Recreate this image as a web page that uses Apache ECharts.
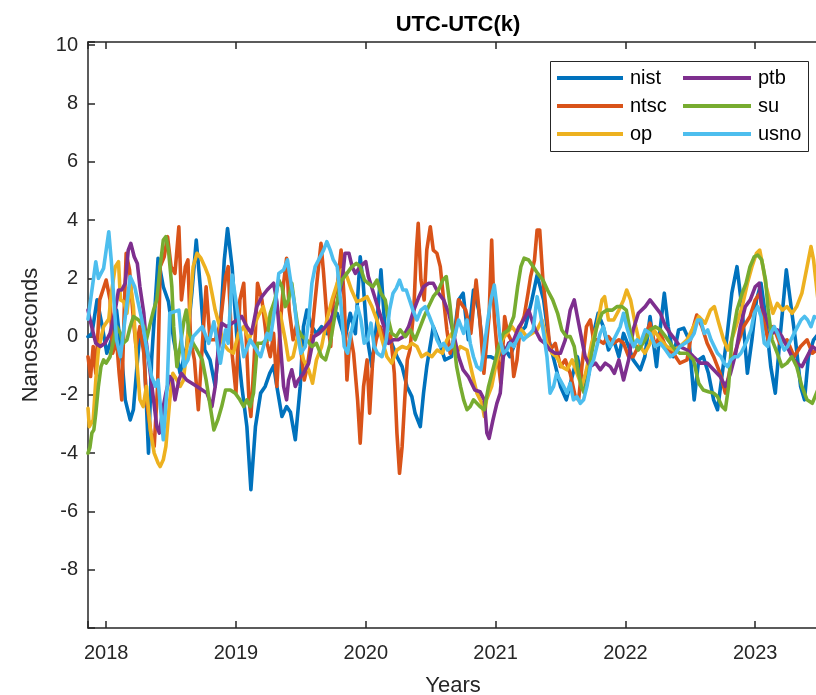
<!DOCTYPE html>
<html>
<head>
<meta charset="utf-8">
<title>UTC-UTC(k)</title>
<script src="https://cdn.jsdelivr.net/npm/echarts@6/dist/echarts.min.js"></script>
<style>
  html, body { margin: 0; padding: 0; background: #ffffff; overflow: hidden; }
  #chart { width: 816px; height: 695px; }
</style>
</head>
<body>
<div id="chart"></div>
<script>
// UTC - UTC(k) offsets, nanoseconds, for six timing laboratories.
// Each entry is [decimal year, offset in ns].
const labNames = ['nist', 'ntsc', 'op', 'ptb', 'su', 'usno'];
const labColors = ['#0072BD', '#D95319', '#EDB120', '#7E2F8E', '#77AC30', '#4DBEEE'];

const nist = [
  [2017.86,0.0],[2017.89,0.1],[2017.93,1.26],[2017.97,0.34],[2018.005,-0.57],[2018.04,-0.11],[2018.08,0.91],[2018.12,-0.69],
  [2018.147,-2.17],[2018.185,-2.86],[2018.21,-2.5],[2018.237,-1.03],[2018.26,0.11],[2018.29,-0.23],[2018.326,-4.0],[2018.35,-0.8],
  [2018.40,2.69],[2018.44,1.71],[2018.48,1.2],[2018.52,-0.11],[2018.57,-1.26],[2018.62,-0.34],[2018.66,1.49],[2018.694,3.31],
  [2018.725,1.71],[2018.76,-0.46],[2018.80,-0.8],[2018.84,-1.71],[2018.88,0.34],[2018.91,2.63],[2018.935,3.71],[2018.97,2.4],
  [2019.01,-0.23],[2019.045,-1.71],[2019.084,-3.09],[2019.115,-5.25],[2019.15,-3.09],[2019.19,-1.94],[2019.225,-1.71],[2019.26,-1.26],
  [2019.29,-1.0],[2019.315,-1.71],[2019.354,-2.74],[2019.39,-2.4],[2019.42,-2.6],[2019.457,-3.54],[2019.495,-1.71],[2019.52,0.34],
  [2019.546,0.91],[2019.585,0.34],[2019.62,0.1],[2019.66,0.34],[2019.70,0.1],[2019.74,0.6],[2019.78,0.8],[2019.84,-0.1],
  [2019.88,0.8],[2019.92,0.1],[2019.957,2.74],[2019.98,1.83],[2020.01,0.0],[2020.047,-1.03],[2020.09,0.69],[2020.117,2.29],
  [2020.15,0.11],[2020.19,-0.11],[2020.24,-0.69],[2020.28,-1.03],[2020.317,-1.71],[2020.355,-2.06],[2020.38,-2.63],[2020.42,-3.09],
  [2020.445,-1.94],[2020.47,-1.03],[2020.52,0.34],[2020.56,-0.11],[2020.61,-0.8],[2020.66,-0.69],[2020.715,1.26],[2020.75,1.49],
  [2020.79,-0.11],[2020.83,1.6],[2020.87,0.91],[2020.91,-0.69],[2020.96,-0.69],[2021.01,-0.8],[2021.06,-0.34],[2021.11,-0.69],
  [2021.18,0.11],[2021.23,0.34],[2021.28,1.26],[2021.32,2.11],[2021.37,1.26],[2021.41,-0.11],[2021.45,-0.8],[2021.50,-1.71],
  [2021.545,-2.17],[2021.59,-1.37],[2021.63,-0.69],[2021.68,-1.71],[2021.72,-1.26],[2021.755,0.11],[2021.79,0.8],[2021.83,0.34],
  [2021.87,-0.46],[2021.91,-0.11],[2021.95,-0.69],[2021.986,0.11],[2022.025,-0.34],[2022.06,-0.8],[2022.115,-1.14],[2022.15,-0.69],
  [2022.19,0.69],[2022.24,-1.03],[2022.27,0.34],[2022.30,1.49],[2022.33,0.34],[2022.37,-0.69],[2022.41,0.23],[2022.45,0.29],
  [2022.49,-0.11],[2022.53,-2.17],[2022.565,-0.8],[2022.60,-0.69],[2022.64,-1.26],[2022.68,-2.17],[2022.71,-2.51],[2022.74,-1.49],
  [2022.78,-0.11],[2022.82,1.49],[2022.86,2.4],[2022.90,0.91],[2022.94,-1.26],[2022.975,-0.11],[2023.01,1.26],[2023.045,1.83],
  [2023.08,0.69],[2023.12,-1.03],[2023.155,-1.94],[2023.19,-0.11],[2023.24,2.29],[2023.27,1.26],[2023.31,-0.11],[2023.35,-1.71],
  [2023.38,-2.17],[2023.41,-0.69],[2023.45,-0.11],[2023.49,0.11]
];

const ntsc = [
  [2017.86,-0.69],[2017.88,-1.37],[2017.90,-0.34],[2017.92,-1.26],[2017.95,1.26],[2017.975,1.6],[2018.0,1.94],[2018.03,1.26],
  [2018.05,-0.57],[2018.08,-0.11],[2018.10,-1.26],[2018.12,-2.17],[2018.14,1.03],[2018.154,2.86],[2018.18,2.29],[2018.21,0.57],
  [2018.23,-0.34],[2018.26,0.34],[2018.29,-0.57],[2018.31,-2.17],[2018.345,-3.31],[2018.37,-3.77],[2018.396,-1.71],[2018.416,2.4],
  [2018.447,2.74],[2018.473,3.43],[2018.50,2.4],[2018.53,2.17],[2018.56,3.77],[2018.58,1.26],[2018.61,2.4],[2018.63,2.63],
  [2018.65,-0.11],[2018.68,-0.8],[2018.71,-2.51],[2018.74,-0.34],[2018.77,1.71],[2018.80,-0.11],[2018.84,-0.11],[2018.88,0.46],
  [2018.92,2.06],[2018.94,2.4],[2018.97,-0.57],[2019.0,-1.94],[2019.03,1.26],[2019.06,1.83],[2019.10,-2.17],[2019.115,-2.74],
  [2019.14,-0.8],[2019.166,1.83],[2019.2,1.26],[2019.24,-0.23],[2019.264,-0.69],[2019.29,0.11],[2019.315,-1.71],[2019.34,0.34],
  [2019.367,1.83],[2019.39,2.69],[2019.41,0.91],[2019.44,-0.11],[2019.47,0.46],[2019.50,-0.46],[2019.526,-1.49],[2019.55,-1.03],
  [2019.585,0.11],[2019.61,1.26],[2019.636,2.4],[2019.655,3.2],[2019.675,2.17],[2019.70,0.69],[2019.73,-0.34],[2019.75,1.26],
  [2019.78,1.71],[2019.81,2.97],[2019.834,1.26],[2019.855,-1.49],[2019.88,0.11],[2019.906,-0.57],[2019.937,-2.17],[2019.957,-3.66],
  [2019.983,-1.71],[2020.01,-0.8],[2020.03,-2.63],[2020.055,-0.69],[2020.08,-0.11],[2020.11,0.34],[2020.15,-0.11],[2020.19,0.11],
  [2020.22,-1.26],[2020.24,-3.31],[2020.26,-4.69],[2020.28,-3.77],[2020.30,-2.17],[2020.32,-0.8],[2020.34,-0.46],[2020.37,0.91],
  [2020.39,2.97],[2020.404,3.89],[2020.425,1.94],[2020.45,1.26],[2020.47,2.97],[2020.497,3.77],[2020.52,2.97],[2020.548,2.86],
  [2020.574,2.4],[2020.60,1.26],[2020.625,0.23],[2020.65,-0.57],[2020.69,0.11],[2020.715,1.26],[2020.77,0.91],[2020.81,0.11],
  [2020.85,1.94],[2020.877,0.69],[2020.91,-1.26],[2020.933,-0.11],[2020.95,0.69],[2020.97,3.31],[2020.99,0.69],[2021.016,-0.69],
  [2021.04,-1.6],[2021.07,0.69],[2021.093,0.11],[2021.118,-0.11],[2021.14,-1.37],[2021.165,-0.8],[2021.19,0.34],[2021.22,0.69],
  [2021.25,1.49],[2021.27,2.06],[2021.30,2.63],[2021.32,3.66],[2021.34,3.66],[2021.365,1.94],[2021.39,0.91],[2021.42,-0.46],
  [2021.46,-0.23],[2021.50,-1.03],[2021.537,-0.8],[2021.575,-1.26],[2021.614,-2.06],[2021.64,-2.17],[2021.665,-1.03],[2021.70,0.34],
  [2021.73,0.57],[2021.755,-0.11],[2021.79,-0.11],[2021.83,-0.23],[2021.87,0.0],[2021.91,-0.23],[2021.95,-0.11],[2021.986,-0.23],
  [2022.025,-0.69],[2022.06,-0.69],[2022.10,-0.34],[2022.14,-0.11],[2022.19,0.46],[2022.23,-0.34],[2022.27,0.11],[2022.32,-0.46],
  [2022.37,-0.57],[2022.42,-0.91],[2022.475,-0.8],[2022.51,0.11],[2022.55,0.74],[2022.59,0.34],[2022.63,-0.23],[2022.68,-0.69],
  [2022.73,-1.26],[2022.77,-1.94],[2022.81,-1.03],[2022.86,-0.34],[2022.91,0.34],[2022.96,0.69],[2023.0,1.26],[2023.035,1.49],
  [2023.065,0.57],[2023.1,-0.11],[2023.14,0.34],[2023.19,-0.23],[2023.245,-0.11],[2023.30,-0.69],[2023.35,-0.34],[2023.40,-0.11],
  [2023.44,-0.57],[2023.49,-0.4]
];

const op = [
  [2017.86,-2.46],[2017.87,-3.09],[2017.90,-2.86],[2017.92,-1.5],[2017.94,-0.46],[2017.98,0.34],[2018.02,0.6],[2018.04,1.5],
  [2018.07,2.4],[2018.095,2.57],[2018.11,1.26],[2018.135,1.2],[2018.16,0.8],[2018.185,1.83],[2018.21,1.03],[2018.235,-0.8],
  [2018.26,-2.17],[2018.285,-2.4],[2018.31,-1.71],[2018.34,-3.2],[2018.37,-4.0],[2018.40,-4.34],[2018.416,-4.46],[2018.44,-4.23],
  [2018.46,-3.77],[2018.49,-2.17],[2018.514,-1.26],[2018.545,-1.49],[2018.57,-1.71],[2018.595,-1.5],[2018.62,-0.46],[2018.65,1.26],
  [2018.67,2.4],[2018.70,2.86],[2018.73,2.69],[2018.76,2.4],[2018.79,2.06],[2018.815,1.49],[2018.84,0.91],[2018.875,0.34],
  [2018.90,-0.23],[2018.94,-0.46],[2018.98,-0.57],[2019.02,0.11],[2019.06,0.34],[2019.10,-0.11],[2019.135,0.34],[2019.17,0.69],
  [2019.21,1.03],[2019.25,0.34],[2019.30,0.91],[2019.34,0.8],[2019.38,-0.11],[2019.405,-0.8],[2019.44,-0.69],[2019.48,0.11],
  [2019.52,-0.8],[2019.56,-1.14],[2019.59,-1.6],[2019.62,-0.8],[2019.66,-0.34],[2019.70,0.57],[2019.74,1.26],[2019.78,1.83],
  [2019.816,2.29],[2019.855,2.06],[2019.89,1.6],[2019.93,1.2],[2019.97,1.26],[2020.01,1.37],[2020.047,1.03],[2020.086,0.57],
  [2020.125,-0.11],[2020.163,-0.69],[2020.2,-0.91],[2020.24,-0.46],[2020.28,-0.34],[2020.317,-0.4],[2020.355,-0.23],[2020.394,-0.34],
  [2020.43,-0.69],[2020.47,-0.57],[2020.51,-0.69],[2020.55,-0.46],[2020.59,-0.57],[2020.625,-0.11],[2020.664,0.11],[2020.70,-0.57],
  [2020.728,-0.34],[2020.78,-0.46],[2020.82,-1.26],[2020.856,-1.94],[2020.895,-2.29],[2020.913,-2.74],[2020.93,-2.17],[2020.97,-1.71],
  [2021.01,-0.8],[2021.05,-0.11],[2021.087,0.11],[2021.126,0.34],[2021.165,0.11],[2021.2,0.23],[2021.24,0.0],[2021.28,0.11],
  [2021.32,0.23],[2021.357,0.57],[2021.396,-0.23],[2021.435,-0.57],[2021.47,-0.69],[2021.51,-1.03],[2021.55,-1.14],[2021.59,-0.8],
  [2021.627,-1.26],[2021.665,-1.71],[2021.7,-1.14],[2021.74,-0.23],[2021.78,0.34],[2021.82,1.26],[2021.84,1.37],[2021.87,0.57],
  [2021.91,0.57],[2021.95,0.91],[2021.986,1.26],[2022.01,1.6],[2022.04,1.26],[2022.08,0.34],[2022.115,-0.34],[2022.15,-0.57],
  [2022.19,-0.23],[2022.22,0.23],[2022.27,-0.11],[2022.32,-0.34],[2022.37,-0.46],[2022.42,-0.34],[2022.475,-0.11],[2022.525,0.34],
  [2022.565,0.69],[2022.615,0.46],[2022.655,0.91],[2022.685,1.03],[2022.72,0.46],[2022.757,-0.11],[2022.79,-0.46],[2022.82,-0.11],
  [2022.86,0.46],[2022.90,1.03],[2022.94,1.83],[2022.975,2.4],[2023.01,2.86],[2023.035,2.97],[2023.06,2.4],[2023.085,1.71],
  [2023.11,1.26],[2023.137,0.8],[2023.17,1.14],[2023.21,0.91],[2023.245,1.03],[2023.285,0.8],[2023.32,1.03],[2023.36,1.49],
  [2023.4,2.4],[2023.43,3.09],[2023.45,2.63],[2023.49,1.0]
];

const ptb = [
  [2017.86,0.91],[2017.88,0.5],[2017.92,-0.23],[2017.955,-0.34],[2017.99,-0.23],[2018.03,0.11],[2018.07,0.91],[2018.095,1.6],
  [2018.12,1.6],[2018.147,1.83],[2018.17,2.97],[2018.19,3.2],[2018.216,2.74],[2018.24,2.51],[2018.26,1.71],[2018.29,0.8],
  [2018.31,-0.23],[2018.34,-1.26],[2018.365,-2.17],[2018.39,-3.09],[2018.41,-3.31],[2018.44,-2.4],[2018.46,-1.94],[2018.49,-1.37],
  [2018.51,-1.49],[2018.53,-2.17],[2018.56,-1.49],[2018.58,-1.26],[2018.62,-1.49],[2018.66,-1.6],[2018.70,-1.71],[2018.74,-1.83],
  [2018.776,-1.94],[2018.815,-2.4],[2018.84,-1.71],[2018.865,-0.34],[2018.89,0.46],[2018.93,0.34],[2018.97,0.46],[2019.01,0.57],
  [2019.045,0.69],[2019.084,0.34],[2019.12,0.11],[2019.16,1.03],[2019.2,1.37],[2019.24,1.6],[2019.29,1.83],[2019.315,1.2],
  [2019.34,-0.11],[2019.367,-1.71],[2019.39,-2.17],[2019.405,-1.5],[2019.43,-1.14],[2019.457,-1.71],[2019.48,-1.49],[2019.52,-1.26],
  [2019.56,-0.91],[2019.6,0.0],[2019.64,0.11],[2019.69,0.34],[2019.73,0.57],[2019.78,1.14],[2019.816,1.83],[2019.84,2.86],
  [2019.87,2.86],[2019.895,2.4],[2019.92,2.17],[2019.957,2.4],[2020.0,2.57],[2020.02,2.06],[2020.06,1.49],[2020.1,0.91],
  [2020.14,0.34],[2020.175,-0.23],[2020.21,-0.11],[2020.25,-0.11],[2020.29,0.0],[2020.33,0.34],[2020.37,0.91],[2020.41,1.37],
  [2020.445,1.71],[2020.485,1.83],[2020.52,1.83],[2020.56,1.49],[2020.6,1.26],[2020.64,0.8],[2020.676,0.11],[2020.715,-0.69],
  [2020.75,-1.14],[2020.79,-1.37],[2020.84,-1.83],[2020.88,-1.89],[2020.913,-2.17],[2020.933,-3.31],[2020.95,-3.49],[2020.98,-2.86],
  [2021.01,-2.29],[2021.036,-1.94],[2021.06,-0.69],[2021.1,-0.23],[2021.14,-0.11],[2021.18,0.34],[2021.216,0.57],[2021.255,0.91],
  [2021.28,0.57],[2021.306,0.23],[2021.345,-0.11],[2021.38,-0.23],[2021.42,-0.46],[2021.46,-0.57],[2021.5,-0.57],[2021.537,-0.11],
  [2021.575,0.91],[2021.606,1.26],[2021.63,0.69],[2021.66,0.0],[2021.69,-0.69],[2021.73,-1.03],[2021.77,-0.91],[2021.806,-1.14],
  [2021.845,-0.91],[2021.884,-1.03],[2021.915,-1.26],[2021.95,-0.8],[2021.986,-1.49],[2022.025,-0.8],[2022.06,0.23],[2022.1,0.8],
  [2022.153,1.03],[2022.19,1.26],[2022.23,1.03],[2022.27,0.8],[2022.31,0.34],[2022.346,0.11],[2022.385,-0.11],[2022.42,-0.34],
  [2022.475,-0.46],[2022.525,-0.69],[2022.577,-0.91],[2022.63,-0.91],[2022.68,-1.14],[2022.73,-1.37],[2022.77,-1.71],[2022.81,-1.26],
  [2022.85,-0.57],[2022.885,0.34],[2022.924,1.03],[2022.962,1.26],[2023.0,1.71],[2023.03,1.83],[2023.052,1.03],[2023.09,0.57],
  [2023.13,0.11],[2023.17,0.23],[2023.206,0.0],[2023.245,-0.34],[2023.283,-0.69],[2023.32,-0.91],[2023.36,-1.03],[2023.4,-0.69],
  [2023.44,-0.34],[2023.49,-0.5]
];

const su = [
  [2017.86,-4.0],[2017.875,-3.8],[2017.89,-3.31],[2017.905,-3.2],[2017.92,-2.63],[2017.94,-1.71],[2017.96,-1.03],[2017.98,-0.8],
  [2018.0,-0.91],[2018.03,-0.69],[2018.057,-0.11],[2018.08,0.34],[2018.11,0.11],[2018.13,-0.23],[2018.16,-0.11],[2018.185,0.34],
  [2018.21,0.69],[2018.25,0.57],[2018.29,0.34],[2018.31,-0.11],[2018.34,0.46],[2018.365,0.91],[2018.39,1.26],[2018.416,2.4],
  [2018.44,3.31],[2018.46,3.43],[2018.48,2.97],[2018.506,1.71],[2018.52,0.34],[2018.545,-1.03],[2018.57,-0.34],[2018.6,0.57],
  [2018.617,0.91],[2018.64,0.11],[2018.67,-0.23],[2018.70,-0.46],[2018.74,-0.8],[2018.77,-1.49],[2018.81,-2.63],[2018.83,-3.2],
  [2018.86,-2.86],[2018.89,-2.4],[2018.92,-1.83],[2018.956,-1.83],[2018.994,-1.94],[2019.03,-2.17],[2019.06,-2.4],[2019.084,-2.17],
  [2019.11,-2.4],[2019.135,-1.94],[2019.166,-0.23],[2019.2,-0.23],[2019.24,-0.11],[2019.264,0.8],[2019.30,1.26],[2019.33,1.94],
  [2019.355,1.71],[2019.38,1.03],[2019.405,1.26],[2019.43,1.83],[2019.457,0.91],[2019.48,0.23],[2019.51,0.0],[2019.546,-0.11],
  [2019.585,-0.34],[2019.62,-0.23],[2019.66,-0.69],[2019.69,-0.8],[2019.726,-0.23],[2019.765,0.8],[2019.79,1.49],[2019.816,1.94],
  [2019.855,2.17],[2019.893,2.4],[2019.927,2.51],[2019.957,2.4],[2019.99,1.94],[2020.02,1.83],[2020.055,1.71],[2020.086,1.94],
  [2020.117,1.49],[2020.15,1.26],[2020.175,0.57],[2020.2,0.11],[2020.235,0.0],[2020.265,0.23],[2020.305,0.0],[2020.343,0.23],
  [2020.38,-0.11],[2020.42,0.34],[2020.45,0.69],[2020.484,1.03],[2020.52,1.37],[2020.56,1.6],[2020.594,1.94],[2020.62,2.06],
  [2020.65,1.03],[2020.676,-0.11],[2020.70,-1.03],[2020.73,-1.71],[2020.754,-2.17],[2020.78,-2.51],[2020.805,-2.4],[2020.83,-2.17],
  [2020.856,-2.29],[2020.88,-2.4],[2020.913,-2.51],[2020.946,-1.71],[2020.985,-1.03],[2021.024,-0.34],[2021.06,0.11],[2021.1,0.23],
  [2021.14,0.69],[2021.17,1.71],[2021.195,2.4],[2021.22,2.69],[2021.255,2.63],[2021.29,2.4],[2021.324,2.17],[2021.365,1.94],
  [2021.4,1.6],[2021.44,1.26],[2021.478,0.8],[2021.51,0.23],[2021.545,0.0],[2021.575,0.0],[2021.606,-0.34],[2021.63,-1.03],
  [2021.66,-1.71],[2021.683,-1.94],[2021.71,-1.49],[2021.74,-0.57],[2021.78,0.34],[2021.82,0.8],[2021.858,0.91],[2021.9,0.91],
  [2021.935,1.03],[2021.974,1.03],[2022.007,0.91],[2022.04,0.11],[2022.064,-0.23],[2022.1,-0.46],[2022.153,-0.11],[2022.19,0.23],
  [2022.23,0.34],[2022.27,0.23],[2022.31,0.0],[2022.346,-0.23],[2022.385,-0.46],[2022.42,-0.57],[2022.475,-0.57],[2022.525,-0.8],
  [2022.565,-1.6],[2022.6,-1.83],[2022.64,-1.89],[2022.68,-1.94],[2022.71,-2.06],[2022.745,-2.4],[2022.77,-2.51],[2022.795,-1.71],
  [2022.82,-0.11],[2022.86,0.91],[2022.9,1.49],[2022.93,1.83],[2022.96,2.4],[2022.993,2.74],[2023.02,2.8],[2023.05,2.63],
  [2023.08,1.94],[2023.1,0.91],[2023.13,-0.11],[2023.17,-0.57],[2023.206,-1.03],[2023.245,-0.91],[2023.283,-0.69],[2023.32,-1.03],
  [2023.36,-1.71],[2023.4,-2.17],[2023.44,-2.29],[2023.49,-1.75]
];

const usno = [
  [2017.86,0.6],[2017.92,2.57],[2017.94,2.0],[2017.98,2.34],[2018.02,3.6],[2018.04,2.57],[2018.08,-0.11],[2018.11,-0.69],
  [2018.185,2.06],[2018.22,1.71],[2018.275,0.57],[2018.31,-0.34],[2018.35,-1.37],[2018.38,-1.71],[2018.40,-1.49],[2018.44,-3.54],
  [2018.47,-1.71],[2018.49,0.8],[2018.56,0.91],[2018.60,-1.03],[2018.63,-0.8],[2018.67,0.0],[2018.74,0.34],[2018.79,-0.23],
  [2018.83,0.51],[2018.88,-0.91],[2018.92,0.23],[2018.94,-0.23],[2018.97,2.11],[2019.01,0.91],[2019.06,-0.69],[2019.11,-0.11],
  [2019.19,-0.69],[2019.24,0.11],[2019.264,-0.11],[2019.30,1.0],[2019.33,2.17],[2019.367,2.29],[2019.397,2.63],[2019.42,1.94],
  [2019.45,1.14],[2019.475,0.11],[2019.5,-0.57],[2019.534,-0.34],[2019.56,0.57],[2019.585,1.83],[2019.61,2.4],[2019.636,2.63],
  [2019.675,2.97],[2019.7,3.26],[2019.726,2.97],[2019.75,2.63],[2019.78,2.4],[2019.81,1.03],[2019.834,-0.34],[2019.86,-0.57],
  [2019.885,0.11],[2019.91,0.57],[2019.937,1.03],[2019.963,0.57],[2019.988,-0.23],[2020.014,-0.11],[2020.04,0.46],[2020.065,-0.34],
  [2020.09,-0.57],[2020.125,-0.69],[2020.158,-0.11],[2020.183,0.91],[2020.21,1.49],[2020.235,1.66],[2020.26,1.94],[2020.286,1.6],
  [2020.312,1.6],[2020.337,1.26],[2020.363,0.91],[2020.394,0.57],[2020.425,0.91],[2020.458,1.03],[2020.49,0.69],[2020.52,0.34],
  [2020.548,-0.11],[2020.574,-0.34],[2020.6,-0.23],[2020.63,-0.46],[2020.664,-0.34],[2020.69,0.11],[2020.715,0.57],[2020.754,0.11],
  [2020.78,0.57],[2020.805,-0.23],[2020.83,-0.69],[2020.856,-1.03],[2020.887,-1.14],[2020.913,-0.34],[2020.94,0.57],[2020.964,1.26],
  [2020.99,1.77],[2021.01,1.03],[2021.036,-0.11],[2021.06,-0.57],[2021.087,-0.46],[2021.113,-0.23],[2021.14,-0.34],[2021.165,-0.11],
  [2021.19,0.11],[2021.216,-0.11],[2021.24,0.0],[2021.267,0.11],[2021.29,0.23],[2021.32,1.37],[2021.345,0.8],[2021.37,0.11],
  [2021.396,-0.69],[2021.42,-1.94],[2021.447,-1.71],[2021.47,-1.26],[2021.498,-1.49],[2021.524,-1.71],[2021.55,-1.94],[2021.575,-1.6],
  [2021.6,-2.17],[2021.627,-2.06],[2021.653,-2.29],[2021.678,-2.17],[2021.704,-1.71],[2021.73,-1.03],[2021.755,-0.8],[2021.78,-0.34],
  [2021.806,0.11],[2021.83,0.34],[2021.858,-0.11],[2021.884,-0.34],[2021.91,-0.11],[2021.935,0.11],[2021.96,0.34],[2021.986,0.8],
  [2022.01,0.34],[2022.04,-0.11],[2022.064,-0.34],[2022.09,-0.11],[2022.115,-0.23],[2022.153,0.23],[2022.19,0.11],[2022.23,-0.34],
  [2022.27,-0.23],[2022.31,-0.46],[2022.346,-0.69],[2022.385,-0.57],[2022.42,-0.34],[2022.46,-0.23],[2022.5,-0.11],[2022.53,0.11],
  [2022.557,0.57],[2022.58,0.57],[2022.608,0.11],[2022.634,0.23],[2022.66,-0.11],[2022.685,-0.34],[2022.71,-0.57],[2022.737,-0.69],
  [2022.76,-0.91],[2022.788,-1.03],[2022.813,-0.8],[2022.84,-0.69],[2022.865,-0.69],[2022.89,-0.57],[2022.916,-0.34],[2022.94,-0.11],
  [2022.968,0.23],[2022.993,0.8],[2023.02,1.03],[2023.045,0.69],[2023.07,-0.23],[2023.096,-0.34],[2023.12,0.11],[2023.147,0.34],
  [2023.173,0.11],[2023.2,-0.23],[2023.224,-0.46],[2023.25,-0.34],[2023.276,-0.11],[2023.3,0.11],[2023.327,0.34],[2023.353,0.57],
  [2023.38,0.69],[2023.404,0.57],[2023.43,0.34],[2023.455,0.69],[2023.49,0.6]
];

const labData = [nist, ntsc, op, ptb, su, usno];
const yearTicks = [2018, 2019, 2020, 2021, 2022, 2023];
const nsTicks = [-8, -6, -4, -2, 0, 2, 4, 6, 8, 10];

const FONT = '"Liberation Sans", Arial, Helvetica, sans-serif';
const AXIS_COLOR = '#262626';

function tickText(list) {
  return function (v) {
    const r = Math.round(v);
    return (Math.abs(v - r) < 1e-6 && list.indexOf(r) >= 0) ? String(r) : '';
  };
}

const axisLine = { show: true, onZero: false, lineStyle: { color: AXIS_COLOR, width: 1.5 } };
const innerTicks = { show: true, inside: true, length: 7, lineStyle: { color: AXIS_COLOR, width: 1.5 } };

const chart = echarts.init(document.getElementById('chart'), null, { renderer: 'canvas' });

chart.setOption({
  animation: false,
  backgroundColor: '#ffffff',
  title: {
    text: 'UTC-UTC(k)',
    left: 453,
    top: 9,
    textAlign: 'center',
    textStyle: { fontFamily: FONT, fontSize: 22, fontWeight: 'bold', color: '#000000' }
  },
  // the box runs a little past the right edge of the page; keep it at a fixed size
  grid: { left: 88, top: 42, width: 730, height: 586, containLabel: false, outerBoundsMode: 'none' },
  xAxis: [
    {
      type: 'value',
      position: 'bottom',
      min: 2017.86,
      max: 2023.484,
      minInterval: 1,
      maxInterval: 1,
      name: 'Years',
      nameLocation: 'middle',
      nameGap: 47,
      nameTextStyle: { fontFamily: FONT, fontSize: 22, color: AXIS_COLOR },
      axisLine: axisLine,
      axisTick: innerTicks,
      splitLine: { show: false },
      axisLabel: { fontFamily: FONT, fontSize: 20, color: AXIS_COLOR, margin: 15, formatter: tickText(yearTicks) }
    },
    {
      type: 'value',
      position: 'top',
      min: 2017.86,
      max: 2023.484,
      minInterval: 1,
      maxInterval: 1,
      axisLine: axisLine,
      axisTick: innerTicks,
      splitLine: { show: false },
      axisLabel: { show: false }
    }
  ],
  yAxis: [
    {
      type: 'value',
      position: 'left',
      min: -10,
      max: 10.11,
      interval: 2,
      name: 'Nanoseconds',
      nameLocation: 'middle',
      nameRotate: 90,
      nameGap: 46,
      nameTextStyle: { fontFamily: FONT, fontSize: 22, color: AXIS_COLOR },
      axisLine: axisLine,
      axisTick: innerTicks,
      splitLine: { show: false },
      axisLabel: { fontFamily: FONT, fontSize: 20, color: AXIS_COLOR, margin: 10, formatter: tickText(nsTicks) }
    },
    {
      type: 'value',
      position: 'right',
      min: -10,
      max: 10.11,
      interval: 2,
      axisLine: axisLine,
      axisTick: { show: false },
      splitLine: { show: false },
      axisLabel: { show: false }
    }
  ],
  legend: [
    {
      data: ['nist', 'ntsc', 'op'],
      orient: 'vertical',
      left: 557,
      top: 68,
      padding: 0,
      itemGap: 8,
      itemWidth: 66,
      itemHeight: 4,
      icon: 'rect',
      selectedMode: false,
      textStyle: { fontFamily: FONT, fontSize: 20, color: '#000000', padding: [0, 0, 0, 2] }
    },
    {
      data: ['ptb', 'su', 'usno'],
      orient: 'vertical',
      left: 683,
      top: 68,
      padding: 0,
      itemGap: 8,
      itemWidth: 68,
      itemHeight: 4,
      icon: 'rect',
      selectedMode: false,
      textStyle: { fontFamily: FONT, fontSize: 20, color: '#000000', padding: [0, 0, 0, 2] }
    }
  ],
  graphic: [
    {
      type: 'rect',
      left: 550,
      top: 61,
      z: -1,
      shape: { width: 258, height: 90 },
      style: { fill: '#ffffff', stroke: AXIS_COLOR, lineWidth: 1 }
    }
  ],
  series: labNames.map(function (name, i) {
    return {
      name: name,
      type: 'line',
      xAxisIndex: 0,
      yAxisIndex: 0,
      data: labData[i],
      color: labColors[i],
      showSymbol: false,
      symbol: 'none',
      clip: true,
      lineStyle: { color: labColors[i], width: 3.6, join: 'round', cap: 'round' },
      emphasis: { disabled: true },
      z: 2 + i
    };
  })
});
</script>
</body>
</html>
